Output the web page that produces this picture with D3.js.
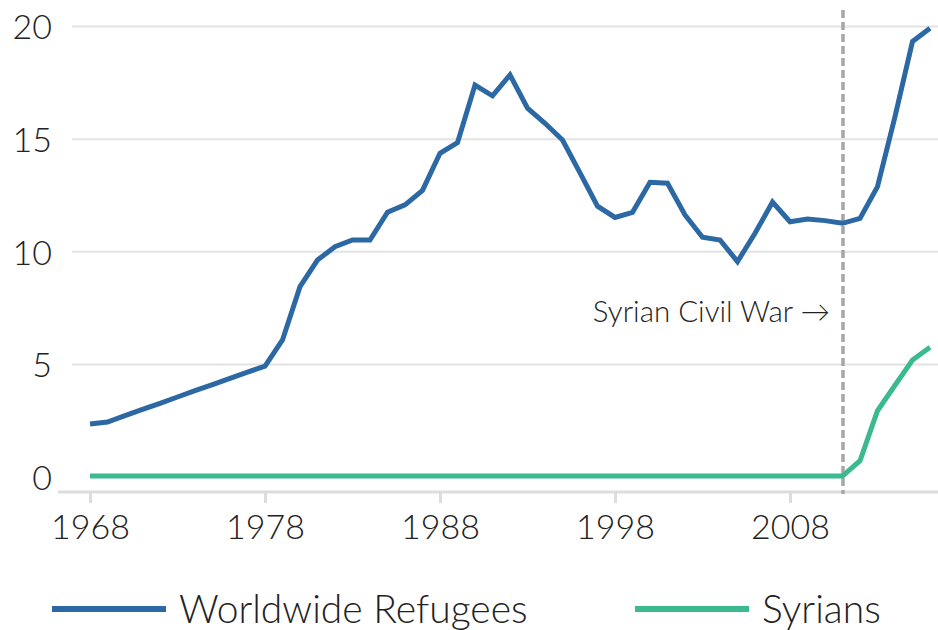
<!DOCTYPE html>
<html>
<head>
<meta charset="utf-8">
<script src="https://cdn.jsdelivr.net/npm/d3@7"></script>
<style>
  body { margin: 0; background: #fff; }
  svg { display: block; font-family: Lato, "Open Sans", sans-serif; font-weight: 300; }
</style>
</head>
<body>
<div id="chart"></div>
<script>
// refugees in millions
var years = d3.range(1968, 2017);
var worldwide = [
  2.33, 2.42, 2.7, 2.98, 3.25, 3.53, 3.81, 4.08, 4.36, 4.63,
  4.9, 6.06, 8.43, 9.61, 10.2, 10.5, 10.5, 11.73, 12.06, 12.7,
  14.35, 14.82, 17.38, 16.9, 17.83, 16.35, 15.68, 14.94, 13.48, 12.0,
  11.5, 11.73, 13.06, 13.02, 11.61, 10.62, 10.5, 9.54, 10.8, 12.18,
  11.31, 11.43, 11.36, 11.24, 11.46, 12.87, 15.98, 19.31, 19.9
];
var syrians = years.map(function (y) { return y <= 2011 ? 0.02 : null; });
syrians[years.indexOf(2012)] = 0.7;
syrians[years.indexOf(2013)] = 2.92;
syrians[years.indexOf(2014)] = 4.05;
syrians[years.indexOf(2015)] = 5.17;
syrians[years.indexOf(2016)] = 5.74;

var xTicks = [1968, 1978, 1988, 1998, 2008];
var yTicks = [0, 5, 10, 15, 20];
var warYear = 2011;
var seriesNames = ["Worldwide Refugees", "Syrians"];
var colors = ["#2c68a3", "#3bb98f"];

var width = 938, height = 630;

var x = d3.scaleLinear().domain([1968, 2016]).range([90, 930]);
var y = d3.scaleLinear().domain([0, 20]).range([476.5, 26]);

var svg = d3.select("#chart").append("svg")
  .attr("width", width)
  .attr("height", height);

// y grid + labels
var yAxis = svg.append("g")
  .attr("transform", "translate(938,0)")
  .call(d3.axisLeft(y).tickValues(yTicks).tickSize(866).tickPadding(20));
yAxis.select(".domain").remove();
yAxis.selectAll("line").attr("stroke", "#e3e3e3").attr("stroke-width", 2)
  .attr("stroke-opacity", function (d) { return d === 0 ? 0 : 1; });
yAxis.selectAll("text")
  .attr("fill", "#222")
  .style("font-size", "34px")
  .style("font-family", "Lato, sans-serif")
  .style("font-weight", 300)
  .attr("dy", "0.38em");

// x axis
var xAxis = svg.append("g")
  .attr("transform", "translate(0,492)")
  .call(d3.axisBottom(x).tickValues(xTicks).tickFormat(d3.format("d")).tickSize(11).tickPadding(12));
xAxis.select(".domain").remove();
xAxis.append("line")
  .attr("x1", 58).attr("x2", 938)
  .attr("stroke", "#dcdddd").attr("stroke-width", 3);
xAxis.selectAll(".tick line").attr("stroke", "#dcdddd").attr("stroke-width", 3);
xAxis.selectAll("text")
  .attr("fill", "#222")
  .style("font-size", "34px")
  .style("font-family", "Lato, sans-serif")
  .style("font-weight", 300);

// war marker
var warX = Math.round(x(warYear));
svg.append("line")
  .attr("x1", warX).attr("x2", warX)
  .attr("y1", 10).attr("y2", 494)
  .attr("stroke", "#a6a6a6")
  .attr("stroke-width", 3.5)
  .attr("stroke-dasharray", "8,4");

svg.append("text")
  .attr("x", warX - 13)
  .attr("y", 322)
  .attr("text-anchor", "end")
  .attr("fill", "#222")
  .style("font-size", "29.5px")
  .text("Syrian Civil War \u2192");

// lines
var line = d3.line()
  .defined(function (d) { return d[1] != null; })
  .x(function (d) { return x(d[0]); })
  .y(function (d) { return y(d[1]); });

[worldwide, syrians].forEach(function (vals, i) {
  svg.append("path")
    .datum(years.map(function (yr, j) { return [yr, vals[j]]; }))
    .attr("fill", "none")
    .attr("stroke", colors[i])
    .attr("stroke-width", 5)
    .attr("stroke-linejoin", "miter")
    .attr("d", line);
});

// legend
var legendX = [52, 635];
var legend = svg.selectAll(".legend")
  .data(seriesNames)
  .enter()
  .append("g")
  .attr("class", "legend")
  .attr("transform", function (d, i) { return "translate(" + legendX[i] + ",609)"; });
legend.append("line")
  .attr("x1", 0).attr("x2", 114)
  .attr("stroke", function (d, i) { return colors[i]; })
  .attr("stroke-width", 6);
legend.append("text")
  .attr("x", 127)
  .attr("dy", "0.36em")
  .attr("fill", "#222")
  .style("font-size", "39px")
  .text(function (d) { return d; });
</script>
</body>
</html>
